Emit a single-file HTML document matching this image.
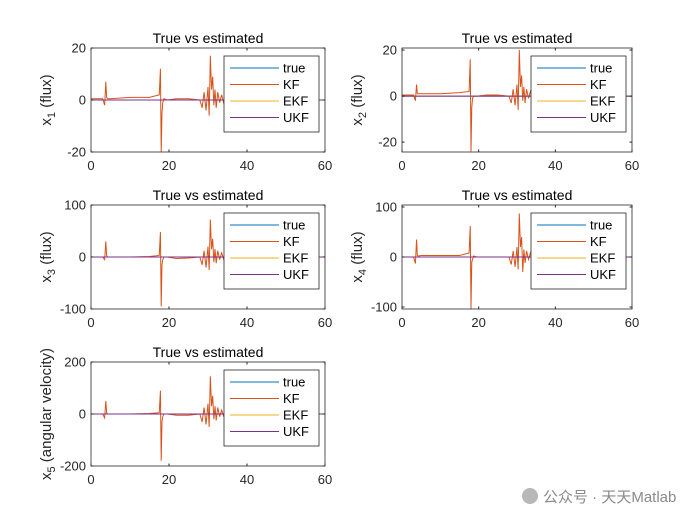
<!DOCTYPE html>
<html><head><meta charset="utf-8"><style>
body{margin:0;background:#fff;}
svg{display:block;font-family:"Liberation Sans","Noto Sans CJK SC",sans-serif;}
</style></head><body>
<svg id="fig" width="700" height="525"></svg>
<script>
const times=[0,3,3.5,3.8,4,4.3,5,10,15,17.5,17.8,18,18.2,18.4,18.7,19.5,22,25,27.9,28.5,29,29.5,30,30.3,30.6,30.9,31.2,31.5,31.8,32.1,32.5,33,33.5,34,34.5,35,36,60];
const kf1=[0.5,0.5,-2,7,1,0.5,0.5,1,1,2,12,-20,-5,-1,0.5,0,0.5,0.5,0,-3,3,-4,5,-6,17,4,9,-2,4,-3,3,-1,2,-1,1,0,0,0];
const kf2=[0.5,0.5,-2,5,1,1,1,1,1.5,2,16,-24,-5,-1,0,0,0.5,0.5,0,-3,3,-4,5,-6,20,4,9,-2,4,-3,3,-1,2,-1,1,0,0,0];
const kf3=[0,0,-5,30,3,0,0,0,1,3,48,-95,-15,-5,0,0,-3,-2,0,-15,12,-20,20,-25,72,15,35,-10,15,-12,12,-5,8,-4,3,0,0,0];
const kf4=[0,0,-13,35,3,2,3,3,3,8,62,-104,-10,-5,2,0,0,0,0,-15,12,-20,20,-25,87,20,40,-30,15,-12,12,-5,8,-4,3,0,0,0];
const kf5=[0,0,-15,50,5,0,0,0,2,5,90,-180,-30,-10,0,0,-5,-5,0,-30,25,-40,40,-50,145,30,70,-20,30,-25,25,-10,15,-8,5,0,0,0];
const xTicks=[0,20,40,60];
const legendLabels=["true","KF","EKF","UKF"];
const colors=["#0072BD","#D95319","#EDB120","#7E2F8E"];
const panels=[
 {x:91,y:48,w:234,h:104,ymin:-20,ymax:20,yt:[-20,0,20],kf:kf1,lab:"1",name:"x1"},
 {x:402,y:48,w:230,h:104,ymin:-24.3,ymax:20.9,yt:[-20,0,20],kf:kf2,lab:"2",name:"x2"},
 {x:91,y:205,w:234,h:104,ymin:-100,ymax:100,yt:[-100,0,100],kf:kf3,lab:"3",name:"x3"},
 {x:402,y:205,w:230,h:104,ymin:-104,ymax:104,yt:[-100,0,100],kf:kf4,lab:"4",name:"x4"},
 {x:91,y:362,w:234,h:104,ymin:-200,ymax:200,yt:[-200,0,200],kf:kf5,lab:"5",name:"x5",angular:true}
];
const NS="http://www.w3.org/2000/svg";
const svg=document.getElementById('fig');
function mk(t,a,p){const e=document.createElementNS(NS,t);for(const k in a)e.setAttribute(k,a[k]);(p||svg).appendChild(e);return e;}
panels.forEach(P=>{
 const g=mk('g',{});
 
 
 const sx=v=>P.x+v/60*P.w, sy=v=>P.y+(P.ymax-v)/(P.ymax-P.ymin)*P.h;
 mk('rect',{x:P.x,y:P.y,width:P.w,height:P.h,fill:'#fff'},g);
 const mkline=(vals,col,nm,wd)=>{const l=mk('polyline',{points:times.map((t,i)=>sx(t)+','+sy(vals[i])).join(' '),fill:'none',stroke:col,'stroke-width':wd},g);
  };
 mkline(times.map(()=>0),colors[0],'true-line',1);
 mkline(P.kf,colors[1],'kf-line',1);
 mkline(times.map(()=>0),colors[2],'ekf-line',1);
 mkline(times.map(()=>0),colors[3],'ukf-line',1);
 mk('rect',{x:P.x,y:P.y,width:P.w,height:P.h,fill:'none',stroke:'#262626','stroke-width':0.8},g);
 xTicks.forEach(v=>{const X=sx(v);mk('line',{x1:X,x2:X,y1:P.y+P.h,y2:P.y+P.h-2.5,stroke:'#262626'},g);mk('line',{x1:X,x2:X,y1:P.y,y2:P.y+2.5,stroke:'#262626'},g);
  const t=mk('text',{x:X,y:P.y+P.h+18,'text-anchor':'middle','font-size':13,fill:'#262626'},g);t.textContent=v;
  });
 P.yt.forEach(v=>{const Y=sy(v);mk('line',{x1:P.x,x2:P.x+2.5,y1:Y,y2:Y,stroke:'#262626'},g);mk('line',{x1:P.x+P.w,x2:P.x+P.w-2.5,y1:Y,y2:Y,stroke:'#262626'},g);
  const t=mk('text',{x:P.x-5,y:Y+4.5,'text-anchor':'end','font-size':13,fill:'#262626'},g);t.textContent=v;
  });
 const ti=mk('text',{x:P.x+P.w/2,y:P.y-5,'text-anchor':'middle','font-size':14,fill:'#000'},g);ti.textContent='True vs estimated';
 
 const cy=P.y+P.h/2, lx=P.x-40;
 const yl=mk('text',{x:lx,y:cy,'text-anchor':'middle','font-size':15,fill:'#262626',transform:`rotate(-90 ${lx} ${cy})`},g);
 yl.innerHTML='x<tspan font-size="11" dy="4">'+P.lab+'</tspan><tspan dy="-4"> '+(P.angular?'(angular velocity)':'(flux)')+'</tspan>';
 
 const L=mk('g',{},g);
 
 const bx=P.x+P.w-101, by=P.y+8;
 mk('rect',{x:bx,y:by,width:95,height:76,fill:'#fff',stroke:'#262626','stroke-width':0.8},L);
 legendLabels.forEach((s,i)=>{const Y=by+12+i*16.5;
  const e=mk('g',{},L);
  
  mk('line',{x1:bx+6,x2:bx+55,y1:Y,y2:Y,stroke:colors[i],'stroke-width':1},e);
  const t=mk('text',{x:bx+59,y:Y+4.5,'font-size':13,fill:'#000'},e);t.textContent=s;});
});
const wm=mk('g',{});

mk('circle',{cx:530,cy:496,r:8,fill:'#b8b8b8'},wm);
const wt=mk('text',{x:543,y:502,'font-size':15,fill:'#8a8a8a'},wm);wt.textContent='公众号 · 天天Matlab';
</script>
</body></html>
